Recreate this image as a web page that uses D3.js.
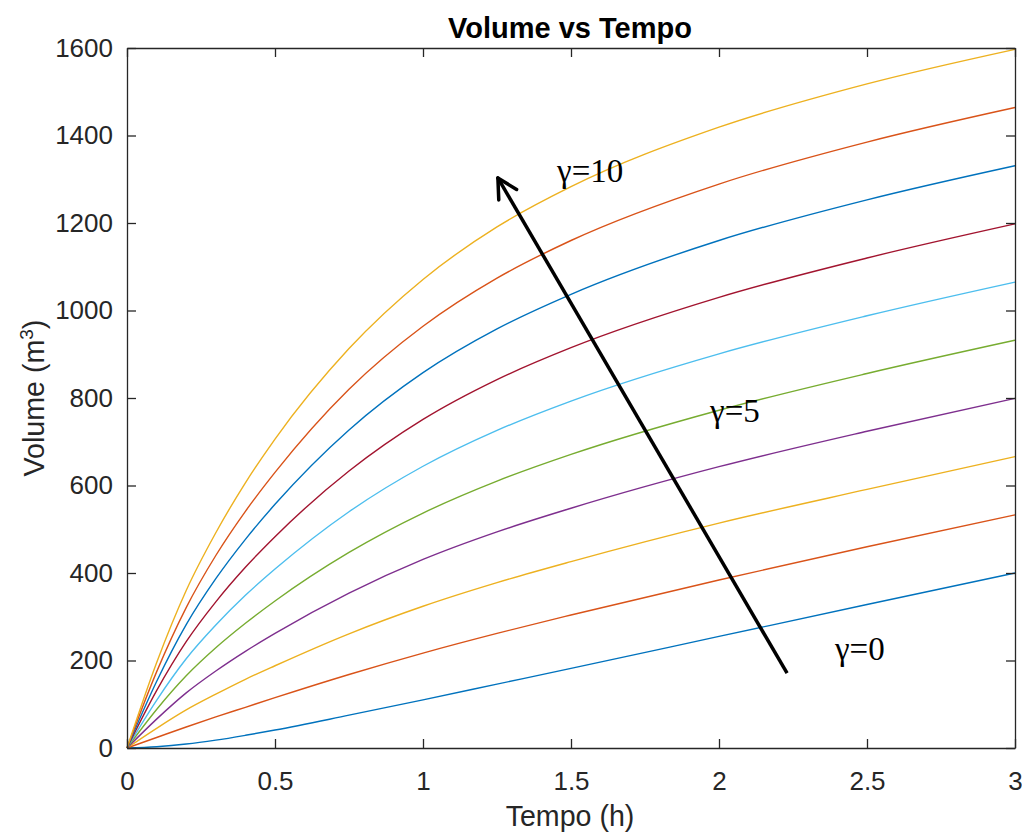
<!DOCTYPE html>
<html><head><meta charset="utf-8">
<script src="https://cdn.jsdelivr.net/npm/d3@7/dist/d3.min.js"></script>
<style>body{margin:0;background:#fff}</style>
</head><body><svg id="c" width="1022" height="832"></svg>
<script>
// ---- data ----
const times = [0, 0.1, 0.2, 0.3, 0.4, 0.5, 0.75, 1, 1.25, 1.5, 2, 2.5, 3];
const curve1  = [0,   3,   9,  18,  29,  41,  75, 110, 146, 182,  255,  328,  400];
const curve2  = [0,  24,  48,  71,  93, 115, 168, 217, 262, 304,  384,  460,  533];
const curve3  = [0,  45,  87, 123, 157, 188, 261, 324, 378, 426,  514,  591,  666];
const curve4  = [0,  66, 126, 176, 221, 262, 354, 431, 494, 548,  643,  724,  799];
const curve5  = [0,  88, 165, 229, 285, 336, 447, 537, 610, 671,  772,  856,  932];
const curve6  = [0, 109, 204, 281, 349, 409, 540, 644, 726, 793,  901,  988, 1065];
const curve7  = [0, 131, 243, 334, 413, 483, 633, 751, 842, 915, 1030, 1120, 1198];
const curve8  = [0, 152, 282, 387, 477, 557, 727, 858, 958, 1037, 1160, 1253, 1331];
const curve9  = [0, 174, 321, 440, 541, 630, 820, 964, 1074, 1160, 1289, 1385, 1464];
const curve10 = [0, 195, 360, 492, 606, 706, 913, 1071, 1191, 1283, 1419, 1518, 1597];
const allSeries = [curve1, curve2, curve3, curve4, curve5, curve6, curve7, curve8, curve9, curve10];
const seriesColors = ["#0072BD","#D95319","#EDB120","#7E2F8E","#77AC30","#4DBEEE","#A2142F","#0072BD","#D95319","#EDB120"];
const xTicks = [0, 0.5, 1, 1.5, 2, 2.5, 3];
const yTicks = [0, 200, 400, 600, 800, 1000, 1200, 1400, 1600];
const titleText = "Volume vs Tempo";
const xLabel = "Tempo (h)";
const annLabels = ["γ=10", "γ=5", "γ=0"];
const annT = [1.453, 1.97, 2.392];
const annV = [1294, 745, 201];
const arrowFrom = [2.23, 171];
const arrowTo = [1.253, 1303];

// ---- layout ----
const svg = d3.select("#c");
const L = 127, R = 1015, T = 48, B = 748;
const x = d3.scaleLinear().domain([0, 3]).range([L, R]);
const y = d3.scaleLinear().domain([0, 1600]).range([B, T]);
const axisColor = "#262626";
const font = "'Liberation Sans', Arial, Helvetica, sans-serif";

svg.append("rect").attr("x",0).attr("y",0).attr("width",1022).attr("height",832).attr("fill","#fff");

// curves
const line = d3.line().x((d,i)=>x(times[i])).y(d=>y(d)).curve(d3.curveMonotoneX);
allSeries.forEach((s, i) => {
  svg.append("path").datum(s).attr("d", line)
    .attr("fill","none").attr("stroke", seriesColors[i]).attr("stroke-width",1.4);
});

// axes
function styleAxis(g) {
  g.select(".domain").attr("stroke", axisColor).attr("stroke-width", 1.3);
  g.selectAll(".tick line").attr("stroke", axisColor).attr("stroke-width", 1.3);
  g.selectAll(".tick text").attr("fill", axisColor).style("font-family", font).style("font-size", "26px");
}
const gx = svg.append("g").attr("transform", `translate(0,${B})`)
  .call(d3.axisBottom(x).tickValues(xTicks).tickSizeInner(-9).tickSizeOuter(0).tickPadding(24).tickFormat(d3.format("")));
styleAxis(gx);
const gy = svg.append("g").attr("transform", `translate(${L},0)`)
  .call(d3.axisLeft(y).tickValues(yTicks).tickSizeInner(-9).tickSizeOuter(0).tickPadding(14).tickFormat(d3.format("d")));
styleAxis(gy);
const gt = svg.append("g").attr("transform", `translate(0,${T})`)
  .call(d3.axisTop(x).tickValues(xTicks).tickSizeInner(-9).tickSizeOuter(0).tickFormat(""));
styleAxis(gt);
const gr = svg.append("g").attr("transform", `translate(${R},0)`)
  .call(d3.axisRight(y).tickValues(yTicks).tickSizeInner(-9).tickSizeOuter(0).tickFormat(""));
styleAxis(gr);

// title & labels
svg.append("text").attr("x", 570).attr("y", 38).attr("text-anchor","middle")
  .style("font-family", font).style("font-size","29px").style("font-weight","bold").attr("fill","#000")
  .text(titleText);
svg.append("text").attr("x", 570).attr("y", 826).attr("text-anchor","middle")
  .style("font-family", font).style("font-size","28.6px").attr("fill", axisColor).text(xLabel);
const yl = svg.append("text").attr("transform", `translate(44,${(T+B)/2}) rotate(-90)`).attr("text-anchor","middle")
  .style("font-family", font).style("font-size","28.6px").attr("fill", axisColor);
yl.append("tspan").text("Volume (m");
yl.append("tspan").attr("dy",-11).style("font-size","19px").text("3");
yl.append("tspan").attr("dy",11).text(")");

// annotations
annLabels.forEach((s, i) => {
  svg.append("text").attr("x", x(annT[i])).attr("y", y(annV[i]))
    .style("font-family", "'Liberation Serif','Times New Roman',serif").style("font-size","33px")
    .attr("fill","#000").text(s);
});

// arrow
const x1 = x(arrowFrom[0]), y1 = y(arrowFrom[1]), x2 = x(arrowTo[0]), y2 = y(arrowTo[1]);
svg.append("line").attr("x1",x1).attr("y1",y1).attr("x2",x2).attr("y2",y2)
  .attr("stroke","#000").attr("stroke-width",3.5);
const ang = Math.atan2(y1-y2, x1-x2);
const wing = 22, spread = 28*Math.PI/180;
[ang-spread, ang+spread].forEach(a => {
  svg.append("line").attr("x1",x2).attr("y1",y2)
    .attr("x2", x2 + wing*Math.cos(a)).attr("y2", y2 + wing*Math.sin(a))
    .attr("stroke","#000").attr("stroke-width",3.5).attr("stroke-linecap","round");
});
</script>
</body></html>
